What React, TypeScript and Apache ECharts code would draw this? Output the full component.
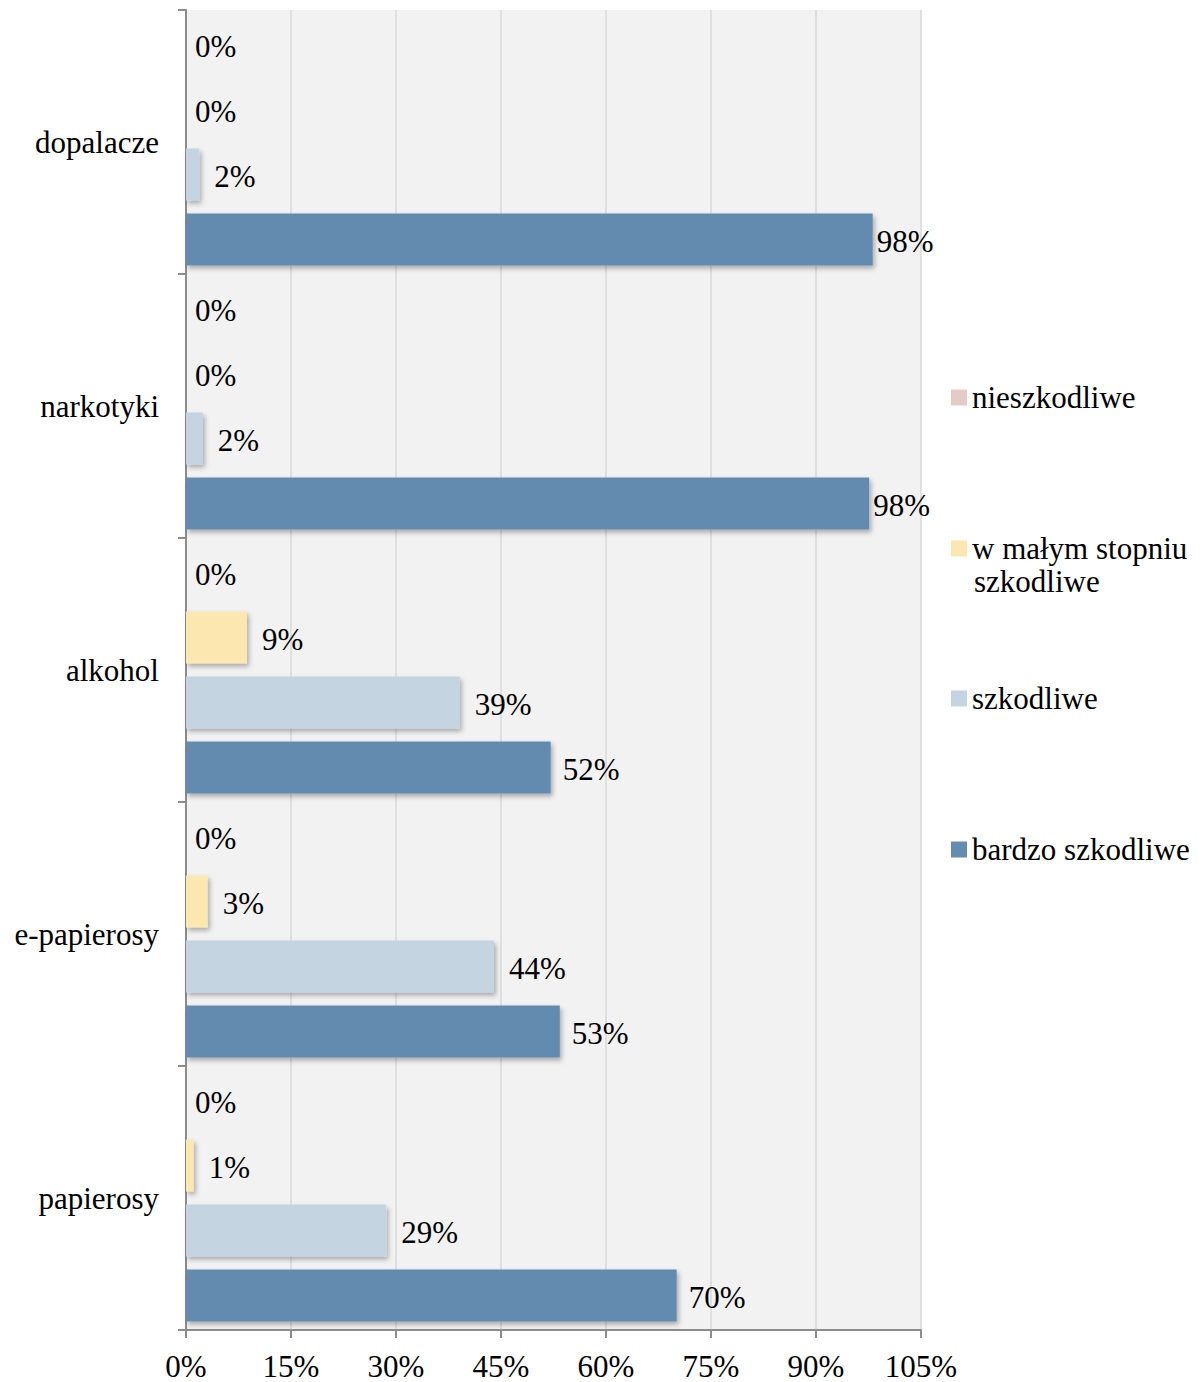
import React, { useEffect, useRef } from "react";
import * as echarts from "echarts";

const categories = ["papierosy", "e-papierosy", "alkohol", "narkotyki", "dopalacze"];
const seriesNames = ["nieszkodliwe", "w małym stopniu szkodliwe", "szkodliwe", "bardzo szkodliwe"];
const nieszkodliwe = [0, 0, 0, 0, 0];
const wMalymStopniu = [1.1, 3.1, 8.7, 0, 0];
const szkodliwe = [28.6, 44, 39.1, 2.4, 1.9];
const bardzoSzkodliwe = [70.1, 53.4, 52.1, 97.6, 98.1];
const xTicks = [0, 15, 30, 45, 60, 75, 90, 105];

const colors = ["#e5cac6", "#fce7b1", "#c4d4e1", "#648bb0"];
const FONT = "Liberation Serif";
const FS = 31;

export default function App() {
  const ref = useRef<HTMLDivElement>(null);
  useEffect(() => {
    document.body.style.margin = "0";
    const chart = echarts.init(ref.current!, null, { renderer: "svg" });
    const allData = [nieszkodliwe, wMalymStopniu, szkodliwe, bardzoSzkodliwe];
    const legendCenters = [397, 548, 698, 849];
    const option: any = {
      animation: false,
      backgroundColor: "#ffffff",
      textStyle: { fontFamily: FONT },
      grid: {
        left: 186,
        top: 10,
        width: 735,
        height: 1320,
        show: true,
        backgroundColor: "#f2f2f2",
        borderWidth: 0,
      },
      xAxis: {
        type: "value",
        min: xTicks[0],
        max: xTicks[xTicks.length - 1],
        interval: 15,
        axisLine: { show: true, lineStyle: { color: "#8c8c8c", width: 2 } },
        axisTick: { show: true, length: 8, lineStyle: { color: "#8c8c8c", width: 2 } },
        splitLine: { show: true, lineStyle: { color: "#d9d9d9", width: 1.5 } },
        axisLabel: {
          formatter: "{value}%",
          fontFamily: FONT,
          fontSize: FS,
          lineHeight: 24,
          color: "#000",
          margin: 24,
        },
      },
      yAxis: {
        type: "category",
        data: categories,
        axisLine: { show: true, lineStyle: { color: "#8c8c8c", width: 2 } },
        axisTick: { show: true, length: 8, lineStyle: { color: "#8c8c8c", width: 2 } },
        axisLabel: { fontFamily: FONT, fontSize: FS, color: "#000", margin: 27 },
      },
      legend: seriesNames.map((name, i) => ({
        data: [name],
        left: 951,
        top: legendCenters[i] - 15,
        padding: 0,
        icon: "rect",
        itemWidth: 16,
        itemHeight: 16,
        itemGap: 7,
        selectedMode: false,
        formatter: (n: string) => (n === "w małym stopniu szkodliwe" ? "w małym stopniu" : n),
        textStyle: { fontFamily: FONT, fontSize: FS, color: "#000" },
      })),
      graphic: [
        {
          type: "text",
          left: 974,
          top: 566,
          style: { text: "szkodliwe", font: `${FS}px "${FONT}"`, fill: "#000" },
        },
      ],
      series: seriesNames.map((name, si) => ({
        name,
        type: "bar",
        barWidth: 52,
        barGap: "25%",
        itemStyle: {
          color: colors[si],
          shadowColor: "rgba(0,0,0,0.3)",
          shadowBlur: 5,
          shadowOffsetX: 2,
          shadowOffsetY: 3,
        },
        label: {
          show: true,
          position: "right",
          distance: si === 3 ? 12 : 15,
          offset: [0, 2],
          fontFamily: FONT,
          fontSize: FS,
          color: "#000",
          formatter: (p: any) => Math.round(p.value) + "%",
        },
        data: allData[si].map((v) =>
          v > 95 ? { value: v, label: { distance: 4 } } : v === 0 ? { value: v, label: { distance: 9 } } : v
        ),
      })),
    };
    chart.setOption(option);
    return () => chart.dispose();
  }, []);
  return <div ref={ref} style={{ width: 1204, height: 1382 }} />;
}
